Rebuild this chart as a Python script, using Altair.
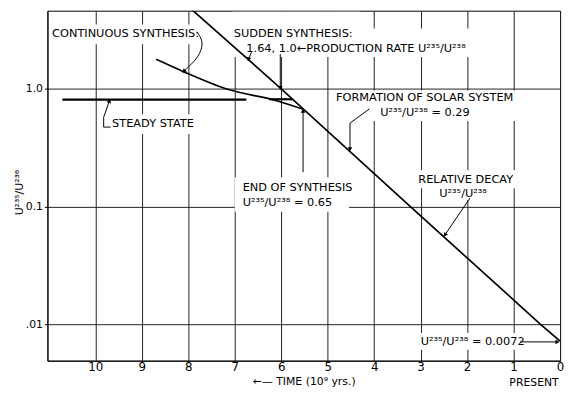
import altair as alt
import pandas as pd

FONT = "DejaVu Sans"

# ---- main series (time in 10^9 yr before present, ratio U235/U238) ----
decay_t = [8.0, 6.0, 3.22, 0.42, 0.0]
decay_r = [5.0, 1.0, 0.1, 0.01, 0.0072]

cont_t = [8.69, 8.09, 7.19, 6.04, 5.51]
cont_r = [1.78, 1.39, 1.0, 0.78, 0.666]

steady_id = ["a", "a", "b", "b"]
steady_t = [10.71, 6.75, 6.26, 5.76]
steady_r = [0.81, 0.81, 0.815, 0.815]

# ---- axis ticks ----
x_ticks = [0, 1, 2, 3, 4, 5, 6, 7, 8, 9, 10]
y_ticks = [1.0, 0.1, 0.01]
x_domain = [0, 11.03]
y_domain = [0.00492, 4.60]

# ---- annotation texts ----
label_text = [
    "CONTINUOUS SYNTHESIS:",
    "SUDDEN SYNTHESIS:",
    "1.64, 1.0\u2190PRODUCTION RATE U\u00b2\u00b3\u2075/U\u00b2\u00b3\u2078",
    "STEADY STATE",
    "END OF SYNTHESIS",
    "U\u00b2\u00b3\u2075/U\u00b2\u00b3\u2078 = 0.65",
    "FORMATION OF SOLAR SYSTEM",
    "U\u00b2\u00b3\u2075/U\u00b2\u00b3\u2078 = 0.29",
    "RELATIVE DECAY",
    "U\u00b2\u00b3\u2075/U\u00b2\u00b3\u2078",
    "U\u00b2\u00b3\u2075/U\u00b2\u00b3\u2078 = 0.0072",
]
label_t = [10.93, 7.02, 6.75, 9.64, 6.83, 6.83, 4.82, 3.87, 3.05, 2.60, 3.00]
label_r = [2.90, 2.91, 2.18, 0.499, 0.144, 0.108, 0.833, 0.617, 0.167, 0.129, 0.0071]

# white patches behind the lettering (grid is interrupted there)
box_t1 = [10.95, 7.05, 5.90, 9.93, 7.00, 4.88, 3.15, 2.72, 3.06]
box_t2 = [7.78, 4.29, 1.96, 7.60, 4.54, 0.68, 0.68, 1.19, 0.05]
box_r1 = [3.51, 4.51, 3.25, 0.608, 0.177, 0.966, 0.203, 0.149, 0.00843]
box_r2 = [2.39, 1.86, 1.86, 0.414, 0.0904, 0.532, 0.143, 0.114, 0.00608]

# leader lines
arrow_id = ["p164", "p164", "p10", "p10",
            "ss", "ss", "ss", "ss",
            "end", "end", "form", "form", "form",
            "rel", "rel", "now", "now"]
arrow_t = [6.64, 6.70, 6.02, 6.02,
           9.67, 9.82, 9.82, 9.70,
           5.53, 5.53, 4.10, 4.52, 4.52,
           1.94, 2.47, 0.86, 0.07]
arrow_r = [2.05, 1.80, 1.97, 1.03,
           0.473, 0.473, 0.574, 0.78,
           0.196, 0.644, 0.676, 0.511, 0.31,
           0.118, 0.058, 0.0071, 0.0071]

curve_t = [7.82, 7.71, 7.69, 7.81, 8.085]
curve_r = [3.05, 2.68, 2.25, 1.79, 1.42]

head_t = [6.70, 6.02, 9.70, 5.53, 4.52, 2.47, 0.07, 8.085]
head_r = [1.80, 1.03, 0.78, 0.644, 0.31, 0.058, 0.0071, 1.42]
head_angle = [195, 180, 20, 0, 180, 216, 90, 225]

# ---- tables ----
decay_df = pd.DataFrame({"t": decay_t, "r": decay_r, "o": range(len(decay_t))})
cont_df = pd.DataFrame({"t": cont_t, "r": cont_r, "o": range(len(cont_t))})
steady_df = pd.DataFrame({"id": steady_id, "t": steady_t, "r": steady_r})
label_df = pd.DataFrame({"label": label_text, "t": label_t, "r": label_r})
box_df = pd.DataFrame({"t1": box_t1, "t2": box_t2, "r1": box_r1, "r2": box_r2})
arrow_df = pd.DataFrame({"id": arrow_id, "t": arrow_t, "r": arrow_r,
                         "o": range(len(arrow_t))})
curve_df = pd.DataFrame({"t": curve_t, "r": curve_r, "o": range(len(curve_t))})
head_df = pd.DataFrame({"t": head_t, "r": head_r, "a": head_angle})
present_df = pd.DataFrame({"label": ["PRESENT"], "t": [0.56], "r": [0.00315]})

xscale = alt.Scale(domain=x_domain, reverse=True, nice=False, zero=False)
yscale = alt.Scale(type="log", domain=y_domain, nice=False, zero=False)

x_axis = alt.Axis(
    values=x_ticks, grid=True, ticks=False, labelPadding=1,
    labelFontSize=12, labelFont=FONT, labelColor="black",
    labelFlush=False, labelOverlap=False, labelBound=False,
    title="\u2190\u2014 TIME (10\u2079 yrs.)", titleFont=FONT, titleFontSize=11,
    titleFontWeight="normal", titleColor="black", titlePadding=3,
    domainColor="black", gridColor="#222", gridWidth=1,
)
y_axis = alt.Axis(
    values=y_ticks, grid=True, tickSize=3, tickColor="black",
    labelExpr="datum.value > 0.5 ? '1.0' : (datum.value > 0.05 ? '0.1' : '.01')",
    labelPadding=2, labelFontSize=11, labelFont=FONT, labelColor="black",
    labelOverlap=False,
    title="U\u00b2\u00b3\u2075/U\u00b2\u00b3\u2078", titleFont=FONT, titleFontSize=11,
    titleFontWeight="normal", titleColor="black", titlePadding=1, titleY=184,
    domainColor="black", gridColor="#222", gridWidth=1,
)


def X(field="t"):
    return alt.X(f"{field}:Q", scale=xscale, axis=x_axis)


def Y(field="r"):
    return alt.Y(f"{field}:Q", scale=yscale, axis=y_axis)


boxes = alt.Chart(box_df).mark_rect(color="white").encode(
    x=X("t1"), x2="t2", y=Y("r1"), y2="r2")

decay = alt.Chart(decay_df).mark_line(color="black", strokeWidth=1.7, clip=True).encode(
    x=X(), y=Y(), order="o:Q")

cont = alt.Chart(cont_df).mark_line(color="black", strokeWidth=1.7,
                                    interpolate="monotone").encode(
    x=X(), y=Y(), order="o:Q")

steady = alt.Chart(steady_df).mark_line(color="black", strokeWidth=2.2).encode(
    x=X(), y=Y(), detail="id:N")

arrows = alt.Chart(arrow_df).mark_line(color="black", strokeWidth=1).encode(
    x=X(), y=Y(), detail="id:N", order="o:Q")

curve = alt.Chart(curve_df).mark_line(color="black", strokeWidth=1,
                                      interpolate="basis").encode(
    x=X(), y=Y(), order="o:Q")

heads = alt.Chart(head_df).mark_point(shape="triangle", filled=True, color="black",
                                      size=22, opacity=1).encode(
    x=X(), y=Y(), angle=alt.Angle("a:Q", scale=None))

labels = alt.Chart(label_df).mark_text(align="left", baseline="middle", font=FONT,
                                       fontSize=11.5, color="black").encode(
    x=X(), y=Y(), text="label:N")

present = alt.Chart(present_df).mark_text(align="center", baseline="middle", font=FONT,
                                          fontSize=11, color="black").encode(
    x=X(), y=Y(), text="label:N")

chart = alt.layer(boxes, decay, cont, steady, arrows, curve, heads, labels, present).properties(
    width=520, height=355,
    autosize=alt.AutoSizeParams(type="none"),
    padding={"left": 40, "top": 0, "right": 4, "bottom": 27},
    background="white",
).configure_view(stroke="black", strokeWidth=1)

chart.save("out.html", embed_options={"renderer": "svg", "actions": False})
